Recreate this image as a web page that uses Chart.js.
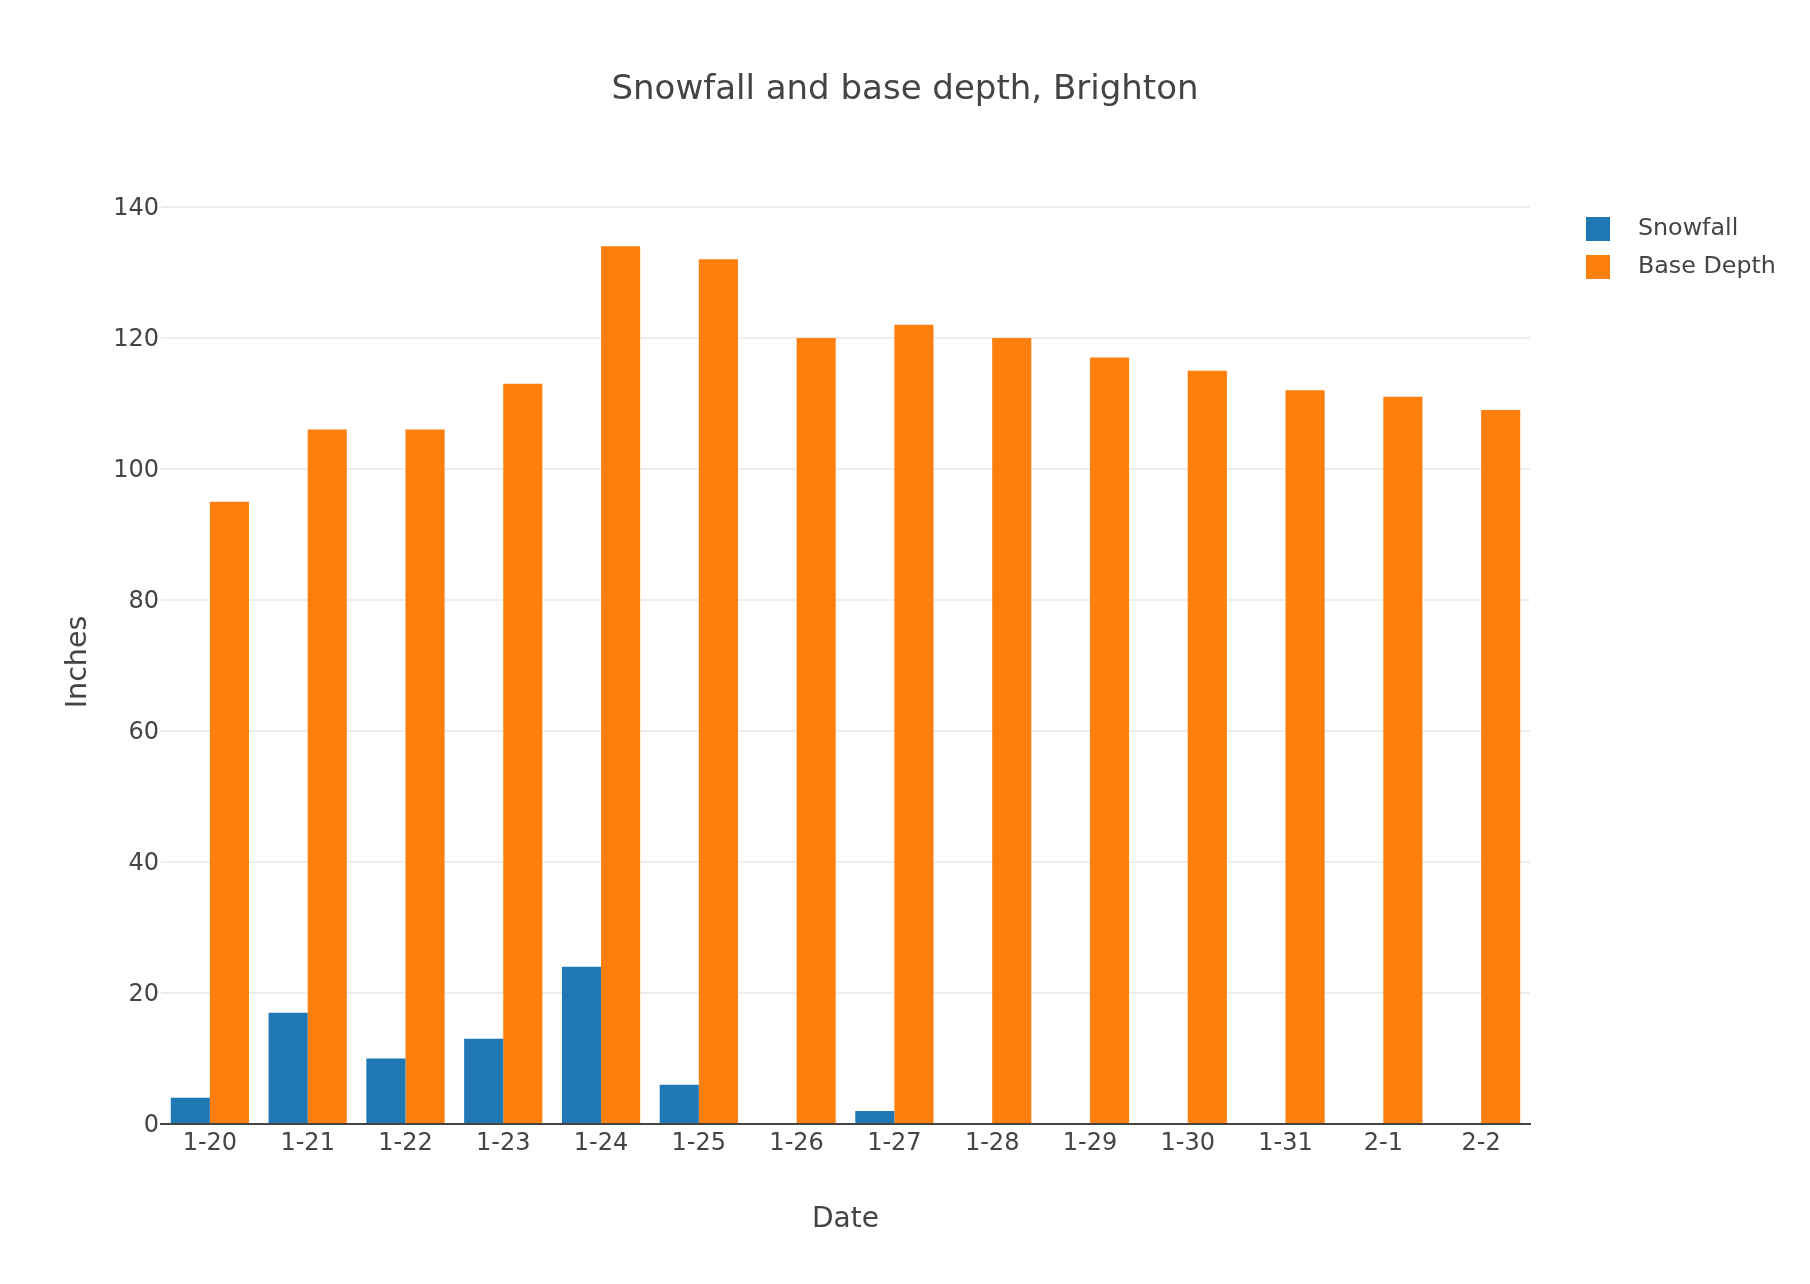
<!DOCTYPE html>
<html>
<head>
<meta charset="utf-8">
<style>html,body{margin:0;padding:0;background:#fff}canvas{display:block}</style>
<script src="https://cdn.jsdelivr.net/npm/chart.js@4"></script>
</head>
<body>
<canvas id="c" width="1810" height="1284"></canvas>
<script>
const categories = ['1-20','1-21','1-22','1-23','1-24','1-25','1-26','1-27','1-28','1-29','1-30','1-31','2-1','2-2'];
const snowfall = [4,17,10,13,24,6,0,2,0,0,0,0,0,0];
const baseDepth = [95,106,106,113,134,132,120,122,120,117,115,112,111,109];
const titleText = 'Snowfall and base depth, Brighton';
const xTitle = 'Date';
const yTitle = 'Inches';
const FONT = '"DejaVu Sans", Verdana, sans-serif';
const INK = '#444444';
const LEG_X = 1586, LEG_W = 40, SWATCH = 24, LEG_PAD = 14;

const placeBoxes = {
  id: 'placeBoxes',
  afterLayout(chart) {
    const t = chart.titleBlock;
    t.left = 0; t.right = chart.width; t.width = chart.width;
    const l = chart.legend;
    const w = l.width;
    l.left = LEG_X - LEG_PAD; l.right = l.left + w;
    l.top = 203; l.bottom = l.top + l.height;
  },
  beforeDraw(chart) {
    if (chart.$nudged) return;
    chart.$nudged = true;
    chart.scales.y.getLabelItems().forEach(it => { it.options.translation[1] += 2; });
  }
};

Chart.defaults.font.family = FONT;
Chart.defaults.color = INK;

new Chart(document.getElementById('c'), {
  type: 'bar',
  plugins: [placeBoxes],
  data: {
    labels: categories,
    datasets: [
      { label: 'Snowfall', data: snowfall, backgroundColor: '#1f77b4' },
      { label: 'Base Depth', data: baseDepth, backgroundColor: '#ff7f0e' }
    ]
  },
  options: {
    responsive: false,
    animation: false,
    devicePixelRatio: 1,
    layout: { padding: { left: 61, right: 280, top: 0, bottom: 47 } },
    datasets: { bar: { barPercentage: 1, categoryPercentage: 0.8 } },
    plugins: {
      title: {
        display: true, text: titleText, color: INK,
        font: { size: 34, weight: 'normal', family: FONT },
        padding: { top: 70, bottom: 89.2 }
      },
      legend: {
        position: 'chartArea', align: 'start',
        labels: {
          color: INK, font: { size: 23.8, family: FONT },
          boxWidth: LEG_W, boxHeight: SWATCH, padding: LEG_PAD,
          generateLabels(chart) {
            return chart.data.datasets.map((d, i) => {
              const g = chart.ctx.createLinearGradient(LEG_X, 0, LEG_X + LEG_W, 0);
              const stop = SWATCH / LEG_W;
              g.addColorStop(0, d.backgroundColor);
              g.addColorStop(stop, d.backgroundColor);
              g.addColorStop(stop, 'rgba(255,255,255,0)');
              g.addColorStop(1, 'rgba(255,255,255,0)');
              return { text: d.label, fillStyle: g, strokeStyle: 'rgba(0,0,0,0)', lineWidth: 0, fontColor: INK, datasetIndex: i, hidden: false };
            });
          }
        }
      },
      tooltip: { enabled: false }
    },
    scales: {
      x: {
        grid: { display: false },
        border: { display: true, color: INK, width: 2 },
        ticks: { color: INK, font: { size: 24 }, padding: -3, maxRotation: 0, autoSkip: false },
        title: { display: true, text: xTitle, color: INK, font: { size: 28 }, padding: { top: 24, bottom: 0 } },
        afterFit(s) { s.height = 1284 - 47 - 1124; }
      },
      y: {
        min: 0, max: 141.05,
        grid: { color: '#eeeeee', lineWidth: 2, drawTicks: false },
        border: { display: false },
        ticks: { stepSize: 20, includeBounds: false, color: INK, font: { size: 24 }, padding: 2 },
        title: { display: true, text: yTitle, color: INK, font: { size: 28.5 }, padding: 0 },
        afterFit(s) { s.width = 161 - 61; }
      }
    }
  }
});
</script>
</body>
</html>
